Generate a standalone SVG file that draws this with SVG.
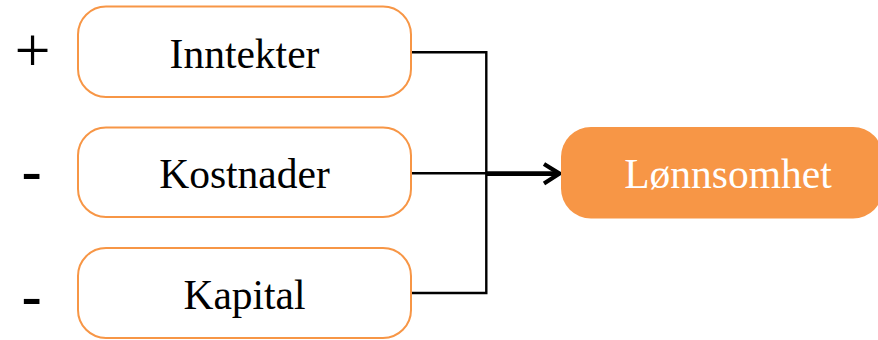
<svg xmlns="http://www.w3.org/2000/svg" width="878" height="340" viewBox="0 0 878 340">
<style>
.box{fill:#fff;stroke:#F79646;stroke-width:2}
.lbl{font-family:"Liberation Serif",serif;font-size:41.5px;text-anchor:middle;fill:#000}
.conn{fill:none;stroke:#000;stroke-width:2.4}
.sign{font-family:"Liberation Serif",serif;fill:#000}
.minus{font-family:"Liberation Sans",sans-serif;fill:#000}
</style>
<rect width="878" height="340" fill="#fff"/>
<g id="connectors">
<path class="conn" d="M411 52.2H486.3V293H411"/>
<path class="conn" d="M411 173.2H487"/>
<path d="M486 173.6H557" fill="none" stroke="#000" stroke-width="4.6"/>
<path d="M544 164L559.5 173.6L544 183.5" fill="none" stroke="#000" stroke-width="4.2"/>
</g>
<g id="node-inntekter">
<rect class="box" x="78" y="6.5" width="333" height="90.5" rx="28"/>
<text class="lbl" x="244.5" y="68">Inntekter</text>
</g>
<g id="node-kostnader">
<rect class="box" x="78" y="127.5" width="333" height="89.5" rx="28"/>
<text class="lbl" x="244.5" y="188">Kostnader</text>
</g>
<g id="node-kapital">
<rect class="box" x="78" y="248" width="333" height="90" rx="28"/>
<text class="lbl" x="244.5" y="309">Kapital</text>
</g>
<g id="node-lonnsomhet">
<rect x="561" y="127" width="322" height="91.5" rx="30" fill="#F79646"/>
<text class="lbl" x="728" y="188" style="fill:#fff">Lønnsomhet</text>
</g>
<g id="signs">
<text class="sign" x="32.5" y="72" font-size="64" text-anchor="middle">+</text>
<text class="minus" x="21" y="194" font-size="64">-</text>
<text class="minus" x="21" y="319" font-size="64">-</text>
</g>
</svg>
